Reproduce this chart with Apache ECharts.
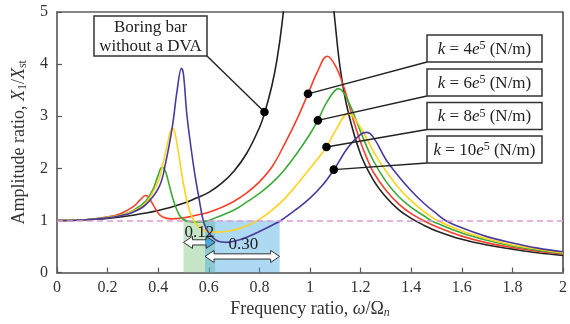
<!DOCTYPE html>
<html><head><meta charset="utf-8">
<script src="https://cdn.jsdelivr.net/npm/echarts@6/dist/echarts.min.js"></script>
<style>html,body{margin:0;padding:0;background:#fff}#c{width:570px;height:324px}</style>
</head><body><div id="c"></div>
<script>
// ---------- data ----------
const noDVA = [[0,1],[0.1,1.01],[0.2,1.04],[0.3,1.10],[0.4,1.19],[0.5,1.33],[0.55,1.43],[0.6,1.54],[0.65,1.71],[0.7,1.95],[0.75,2.29],[0.8,2.78],[0.82,3.05],[0.85,3.6],[0.87,4.1],[0.89,4.8],[0.91,5.8],[0.94,8],[1.06,8],[1.09,5.3],[1.1,4.76],[1.12,3.9],[1.15,3.1],[1.2,2.27],[1.25,1.78],[1.3,1.45],[1.35,1.21],[1.4,1.04],[1.45,0.91],[1.5,0.80],[1.6,0.64],[1.7,0.53],[1.8,0.45],[1.9,0.38],[2,0.33]];
const k4 = [[0,1],[0.1,1.01],[0.2,1.07],[0.25,1.13],[0.3,1.26],[0.33,1.4],[0.35,1.48],[0.36,1.46],[0.38,1.3],[0.4,1.14],[0.42,1.06],[0.45,1.03],[0.5,1.05],[0.55,1.1],[0.6,1.16],[0.65,1.25],[0.7,1.37],[0.75,1.53],[0.8,1.74],[0.85,2.03],[0.9,2.47],[0.95,2.96],[0.992,3.43],[1.03,3.86],[1.068,4.15],[1.1,3.97],[1.133,3.57],[1.17,2.95],[1.2,2.5],[1.227,2.17],[1.25,1.93],[1.3,1.58],[1.35,1.32],[1.4,1.13],[1.448,1.0],[1.5,0.88],[1.6,0.70],[1.7,0.57],[1.8,0.48],[1.9,0.41],[2,0.36]];
const k6 = [[0,1],[0.1,1.01],[0.2,1.06],[0.25,1.1],[0.3,1.19],[0.35,1.37],[0.38,1.6],[0.4,1.87],[0.415,2.02],[0.428,1.95],[0.44,1.75],[0.455,1.47],[0.47,1.25],[0.49,1.06],[0.52,0.98],[0.56,0.97],[0.6,1.0],[0.625,1.05],[0.7,1.2],[0.755,1.37],[0.8,1.52],[0.85,1.72],[0.9,1.98],[0.95,2.3],[1.0,2.66],[1.031,2.92],[1.07,3.3],[1.113,3.53],[1.15,3.3],[1.2,2.7],[1.248,2.17],[1.3,1.75],[1.35,1.46],[1.4,1.25],[1.45,1.09],[1.478,1.0],[1.5,0.95],[1.6,0.76],[1.7,0.62],[1.8,0.51],[1.9,0.43],[2,0.37]];
const k8 = [[0,1],[0.1,1.01],[0.2,1.06],[0.25,1.1],[0.3,1.18],[0.35,1.33],[0.4,1.75],[0.417,2.05],[0.436,2.45],[0.456,2.78],[0.465,2.7],[0.48,2.3],[0.5,1.7],[0.52,1.25],[0.54,1.0],[0.56,0.88],[0.6,0.78],[0.65,0.78],[0.7,0.82],[0.75,0.9],[0.8,1.02],[0.85,1.2],[0.9,1.42],[0.95,1.7],[1.0,2.0],[1.065,2.41],[1.1,2.72],[1.152,3.05],[1.2,2.78],[1.25,2.33],[1.27,2.17],[1.3,1.95],[1.35,1.63],[1.4,1.38],[1.45,1.17],[1.504,1.0],[1.6,0.8],[1.7,0.65],[1.8,0.53],[1.9,0.45],[2,0.38]];
const k10 = [[0,1],[0.1,1.01],[0.2,1.05],[0.25,1.09],[0.3,1.16],[0.35,1.3],[0.404,1.65],[0.43,2.12],[0.456,2.8],[0.475,3.5],[0.492,3.92],[0.5,3.8],[0.514,3.0],[0.54,2.04],[0.56,1.46],[0.58,0.96],[0.6,0.76],[0.638,0.6],[0.67,0.58],[0.7,0.6],[0.75,0.68],[0.8,0.79],[0.85,0.91],[0.885,1.0],[0.95,1.23],[1.0,1.43],[1.05,1.68],[1.094,1.97],[1.15,2.4],[1.2,2.65],[1.224,2.69],[1.25,2.6],[1.3,2.17],[1.35,1.85],[1.4,1.57],[1.45,1.33],[1.5,1.13],[1.536,1.0],[1.6,0.86],[1.7,0.69],[1.8,0.57],[1.9,0.47],[2,0.4]];
const kValues = ['4','6','8','10'];
const refLevel = 1;
const greenBand = [0.50, 0.625];
const blueBand = [0.585, 0.88];
const bandLabels = ['0.12', '0.30'];
const anchors = [[0.82,3.08],[0.992,3.43],[1.031,2.92],[1.065,2.41],[1.094,1.975]];
const xRange = [0, 2], yRange = [0, 5];

// ---------- chart ----------
const FONT = "'Liberation Serif', 'DejaVu Serif', serif";
const colors = ['#222222', '#f2402c', '#3aa935', '#ffd21f', '#4b3a9c'];
const chart = echarts.init(document.getElementById('c'), null, {renderer: 'canvas'});

function lineSeries(data, color) {
  return {type: 'line', data: data, showSymbol: false, smooth: 0.4,
    lineStyle: {color: color, width: 1.6}, z: 2, silent: true, clip: true};
}

chart.setOption({
  animation: false,
  grid: {left: 57, right: 1, top: 12, bottom: 51, show: true, borderColor: '#111', borderWidth: 1.2},
  xAxis: {type: 'value', min: xRange[0], max: xRange[1], interval: 0.2,
    axisLine: {lineStyle: {color: '#777', width: 2}},
    axisTick: {inside: true, length: 5, lineStyle: {color: '#555', width: 1.2}},
    splitLine: {show: false},
    axisLabel: {fontFamily: FONT, fontSize: 16, color: '#333', margin: 7,
      formatter: v => String(+v.toFixed(1))},
    name: 'Frequency ratio, {i|ω}/Ω{sub|n}', nameLocation: 'middle', nameGap: 17,
    nameTextStyle: {fontFamily: FONT, fontSize: 18, color: '#333',
      rich: {i: {fontFamily: FONT, fontSize: 18, fontStyle: 'italic', color: '#333'},
             sub: {fontFamily: FONT, fontSize: 12, fontStyle: 'italic', color: '#333', verticalAlign: 'bottom', padding: [7,0,0,0]}}}
  },
  yAxis: {type: 'value', min: yRange[0], max: yRange[1], interval: 1,
    axisLine: {show: true, lineStyle: {color: '#777', width: 2}},
    axisTick: {show: true, inside: true, length: 5, lineStyle: {color: '#555', width: 1.2}},
    splitLine: {show: false},
    axisLabel: {fontFamily: FONT, fontSize: 16, color: '#333', margin: 9},
    name: 'Amplitude ratio, {i|X}{sub|1}/{i|X}{sub|st}', nameLocation: 'middle', nameGap: 27, nameRotate: 90,
    nameTextStyle: {fontFamily: FONT, fontSize: 18, color: '#333',
      rich: {i: {fontFamily: FONT, fontSize: 18, fontStyle: 'italic', color: '#333'},
             sub: {fontFamily: FONT, fontSize: 12, color: '#333', verticalAlign: 'bottom', padding: [7,0,0,0]}}}
  },
  series: [
    {type: 'line', data: [], z: 1, silent: true,
     markArea: {silent: true, itemStyle: {color: 'rgba(120,190,120,0.42)'},
       data: [[{xAxis: greenBand[0], yAxis: 0}, {xAxis: greenBand[1], yAxis: refLevel}]]}},
    lineSeries(noDVA, colors[0]),
    lineSeries(k4, colors[1]),
    lineSeries(k6, colors[2]),
    lineSeries(k8, colors[3]),
    lineSeries(k10, colors[4]),
    {type: 'line', data: [], z: 3, silent: true,
     markLine: {silent: true, symbol: 'none', label: {show: false},
       lineStyle: {color: '#dc9bd6', type: [6, 4], width: 1.5},
       data: [{yAxis: refLevel}]}},
    {type: 'line', data: [], z: 4, silent: true,
     markArea: {silent: true, itemStyle: {color: 'rgba(60,165,225,0.42)'},
       data: [[{xAxis: blueBand[0], yAxis: 0}, {xAxis: blueBand[1], yAxis: refLevel}]]}}
  ]
});

// ---------- annotations ----------
const P = (x, y) => chart.convertToPixel({gridIndex: 0}, [x, y]);
function arrow(x1, x2, y, fill, z) {
  const hl = 9, hh = 6, sh = 2.6;
  return {type: 'polygon', z: z, silent: true,
    shape: {points: [[x1,y],[x1+hl,y-hh],[x1+hl,y-sh],[x2-hl,y-sh],[x2-hl,y-hh],[x2,y],[x2-hl,y+hh],[x2-hl,y+sh],[x1+hl,y+sh],[x1+hl,y+hh]]},
    style: {fill: fill, stroke: '#333', lineWidth: 1}};
}
const g = [];
const gA = P(greenBand[0], 0.58), gB = P(greenBand[1], 0.58);
const bA = P(blueBand[0], 0.31), bB = P(blueBand[1], 0.31);
const cut = (P(blueBand[0], 0)[0] - gA[0]) / (gB[0] - gA[0]);
const smallFill = new echarts.graphic.LinearGradient(0, 0, 1, 0, [
  {offset: 0, color: '#ffffff'}, {offset: cut, color: '#ffffff'},
  {offset: cut + 0.001, color: '#4ea6de'}, {offset: 1, color: '#4ea6de'}]);
g.push(arrow(gA[0], gB[0], gA[1], smallFill, 5));
g.push(arrow(bA[0], bB[0], bA[1], '#ffffff', 6));
g.push({type: 'text', z: 7, silent: true, x: (gA[0] + gB[0]) / 2, y: gA[1] - 10,
  style: {text: bandLabels[0], font: "17px " + FONT, fill: '#222', align: 'center', verticalAlign: 'middle'}});
g.push({type: 'text', z: 7, silent: true, x: (bA[0] + bB[0]) / 2 + 1, y: bA[1] - 12,
  style: {text: bandLabels[1], font: "17px " + FONT, fill: '#222', align: 'center', verticalAlign: 'middle'}});

const box0 = {x: 94, y: 16, w: 113, h: 40};
const d0 = P(anchors[0][0], anchors[0][1]);
g.push({type: 'line', z: 6, silent: true, shape: {x1: box0.x + box0.w, y1: box0.y + box0.h, x2: d0[0], y2: d0[1]}, style: {stroke: '#222', lineWidth: 1.4}});
g.push({type: 'rect', z: 7, silent: true, shape: {x: box0.x, y: box0.y, width: box0.w, height: box0.h}, style: {fill: '#fff', stroke: '#333', lineWidth: 1.5}});
g.push({type: 'text', z: 8, silent: true, x: box0.x + box0.w / 2, y: box0.y + box0.h / 2 + 1,
  style: {text: 'Boring bar\nwithout a DVA', font: "17px " + FONT, fill: '#222', align: 'center', verticalAlign: 'middle', lineHeight: 19}});
g.push({type: 'circle', z: 8, silent: true, shape: {cx: d0[0], cy: d0[1], r: 4.3}, style: {fill: '#000'}});

const boxTops = [35, 69, 102.5, 136];
kValues.forEach((kv, i) => {
  const bx = 427, bw = 115, bh = 27, by = boxTops[i];
  const d = P(anchors[i + 1][0], anchors[i + 1][1]);
  g.push({type: 'line', z: 6, silent: true, shape: {x1: bx, y1: by + bh, x2: d[0], y2: d[1]}, style: {stroke: '#222', lineWidth: 1.4}});
  g.push({type: 'rect', z: 7, silent: true, shape: {x: bx, y: by, width: bw, height: bh}, style: {fill: '#fff', stroke: '#333', lineWidth: 1.5}});
  g.push({type: 'text', z: 8, silent: true, x: bx + bw / 2, y: by + bh / 2 + 1,
    style: {text: '{i|k} = ' + kv + '{i|e}{sup|5} (N/m)', font: "17px " + FONT, fill: '#222', align: 'center', verticalAlign: 'middle',
      rich: {i: {font: "italic 17px " + FONT, fill: '#222'},
             sup: {font: "12px " + FONT, fill: '#222', verticalAlign: 'top', padding: [0,0,7,0]}}}});
  g.push({type: 'circle', z: 8, silent: true, shape: {cx: d[0], cy: d[1], r: 4.3}, style: {fill: '#000'}});
});
chart.setOption({graphic: {elements: g}});
</script></body></html>
